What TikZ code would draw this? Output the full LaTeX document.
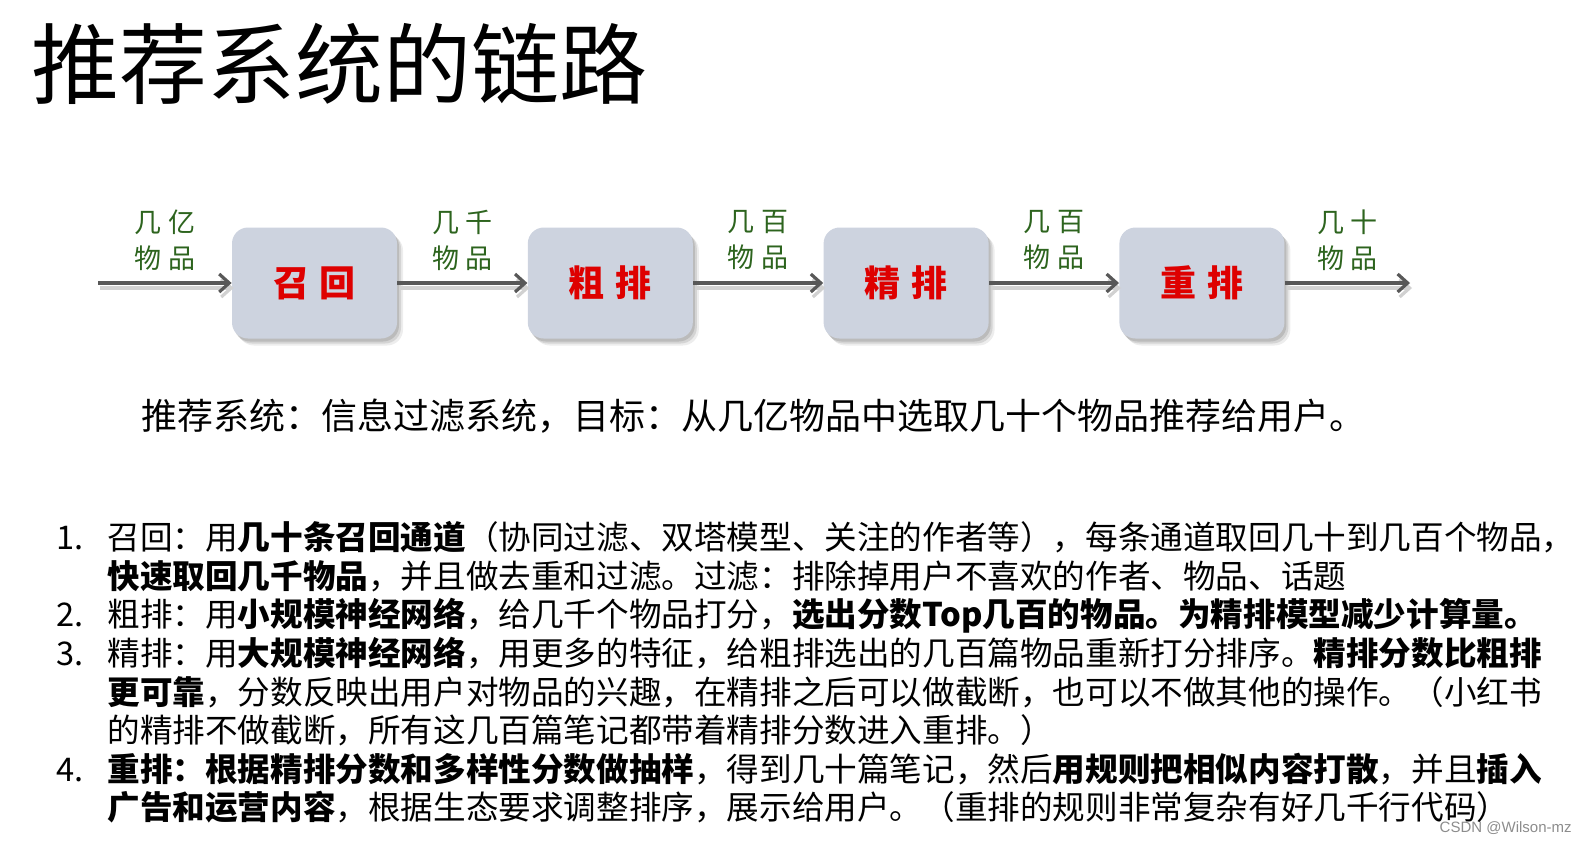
\documentclass[tikz,border=0pt]{standalone}
\usepackage{fontspec}
\setmainfont{Liberation Sans}
\newfontfamily\cjk{Noto Sans CJK SC}
\usetikzlibrary{arrows.meta}
\usetikzlibrary{positioning,calc,shadows}

\definecolor{boxfill}{RGB}{205,211,223}
\definecolor{stagered}{RGB}{222,0,0}
\definecolor{countgreen}{RGB}{45,100,30}
\definecolor{arrowgray}{RGB}{88,88,88}

\newcommand{\titlefont}{\cjk\fontsize{44}{50}\selectfont}
\newcommand{\stagefont}{\cjk\bfseries\fontsize{18}{22}\selectfont}
\newcommand{\countfont}{\cjk\fontsize{13.5}{18}\selectfont}
\newcommand{\leadfont}{\cjk\fontsize{18}{22}\selectfont}
\newcommand{\bodyfont}{\cjk\fontsize{16.3}{20}\selectfont}

\begin{document}
\begin{tikzpicture}[x=0.5pt,y=-0.5pt]
		\useasboundingbox (0,0) rectangle (1582,842);

		\node[anchor=base west,inner sep=0pt,font=\titlefont] (title) at (31,97) {推荐系统的链路};

		\begin{scope}[every node/.style={rectangle,rounded corners=8pt,fill=boxfill,
				minimum width=82.5pt,minimum height=55.5pt,text=stagered,font=\stagefont,
				drop shadow={shadow xshift=3pt,shadow yshift=-3.5pt,fill=black!40,opacity=0.18},
				drop shadow={shadow xshift=2pt,shadow yshift=-2.5pt,fill=black!45,opacity=0.25},
				drop shadow={shadow xshift=1pt,shadow yshift=-1.5pt,fill=black!50,opacity=0.3}},
				node distance=65pt]
			\node (recall) at (314.5,283) {召\hspace{0.3em}回};
			\node[right=of recall] (coarse) {粗\hspace{0.3em}排};
			\node[right=of coarse] (fine) {精\hspace{0.3em}排};
			\node[right=of fine] (rerank) {重\hspace{0.3em}排};
		\end{scope}
		\coordinate (src) at (98,283);
		\coordinate (dst) at (1410,283);

		\begin{scope}[>={Straight Barb[length=5pt,width=9pt]},line width=1.6pt]
			\begin{scope}[transform canvas={shift={(1pt,-2.5pt)}},draw=black!18]
				\path (src) edge[->] (recall);
				\path (recall) edge[->] (coarse);
				\path (coarse) edge[->] (fine);
				\path (fine) edge[->] (rerank);
				\path (rerank) edge[->] (dst);
			\end{scope}
			\begin{scope}[draw=arrowgray]
				\path (src) edge[->] (recall);
				\path (recall) edge[->] (coarse);
				\path (coarse) edge[->] (fine);
				\path (fine) edge[->] (rerank);
				\path (rerank) edge[->] (dst);
			\end{scope}
		\end{scope}

		\begin{scope}[every node/.style={text=countgreen,align=center,font=\countfont,inner sep=0pt}]
			\node (yi) at ($(src)!0.5!(recall.west)+(0,-43)$) {几\hspace{0.25em}亿\\物\hspace{0.25em}品};
			\node (qian) at ($(recall.east)!0.5!(coarse.west)+(0,-43)$) {几\hspace{0.25em}千\\物\hspace{0.25em}品};
			\node (bai) at ($(coarse.east)!0.5!(fine.west)+(0,-43)$) {几\hspace{0.25em}百\\物\hspace{0.25em}品};
			\node (bai2) at ($(fine.east)!0.5!(rerank.west)+(0,-43)$) {几\hspace{0.25em}百\\物\hspace{0.25em}品};
			\node (shi) at ($(rerank.east)!0.5!(dst)+(0,-43)$) {几\hspace{0.25em}十\\物\hspace{0.25em}品};
		\end{scope}

		\node[anchor=base west,inner sep=0pt,font=\leadfont] (goal) at (141,429)
			{推荐系统：信息过滤系统，目标：从几亿物品中选取几十个物品推荐给用户。};

		\begin{scope}[every node/.style={anchor=base west,inner sep=0pt,font=\bodyfont}]
			\node (n1) at (56,549) {1.};
			\node (l1) at (107,549) {召回：用\textbf{几十条召回通道}（协同过滤、双塔模型、关注的作者等），每条通道取回几十到几百个物品，};
			\node (l1b) at (107,588) {\textbf{快速取回几千物品}，并且做去重和过滤。过滤：排除掉用户不喜欢的作者、物品、话题};
			\node (n2) at (56,626) {2.};
			\node (l2) at (107,626) {粗排：用\textbf{小规模神经网络}，给几千个物品打分，\textbf{选出分数Top几百的物品。为精排模型减少计算量。}};
			\node (n3) at (56,665) {3.};
			\node (l3) at (107,665) {精排：用\textbf{大规模神经网络}，用更多的特征，给粗排选出的几百篇物品重新打分排序。\textbf{精排分数比粗排}};
			\node (l3b) at (107,704) {\textbf{更可靠}，分数反映出用户对物品的兴趣，在精排之后可以做截断，也可以不做其他的操作。（小红书};
			\node (l3c) at (107,742) {的精排不做截断，所有这几百篇笔记都带着精排分数进入重排。）};
			\node (n4) at (56,781) {4.};
			\node (l4) at (107,781) {\textbf{重排：根据精排分数和多样性分数做抽样}，得到几十篇笔记，然后\textbf{用规则把相似内容打散}，并且\textbf{插入}};
			\node (l4b) at (107,819) {\textbf{广告和运营内容}，根据生态要求调整排序，展示给用户。（重排的规则非常复杂有好几千行代码）};
		\end{scope}

		\node[anchor=east,inner sep=0pt,text=black!45,font=\fontsize{7.5}{9}\selectfont] (mark) at (1572,828) {CSDN @Wilson-mz};
	\end{tikzpicture}
\end{document}
